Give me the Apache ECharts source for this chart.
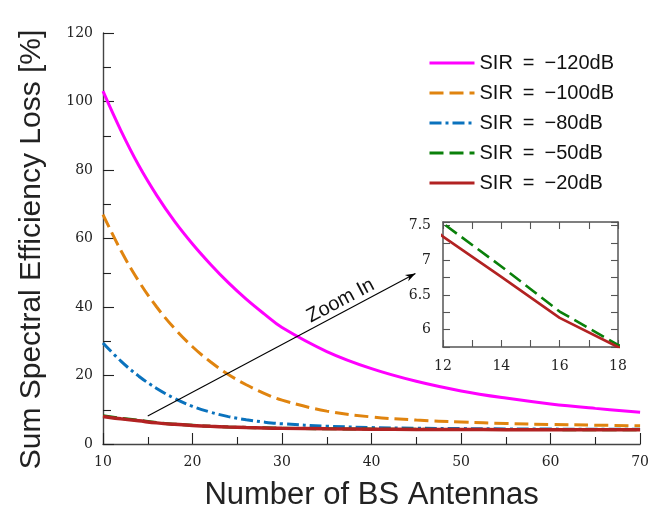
<!DOCTYPE html>
<html>
<head>
<meta charset="utf-8">
<script src="https://cdn.jsdelivr.net/npm/echarts@6/dist/echarts.min.js"></script>
<style>html,body{margin:0;padding:0;background:#fff}#c{width:652px;height:516px}</style>
</head>
<body>
<div id="c"></div>
<script>
// ---- data ----
const antennas = [10,12,14,16,18,20,22,24,26,28,30,35,40,45,50,55,60,65,70];
const lossSIRm120 = [103,91.5,81.3,72.6,65.0,58.4,52.5,47.1,42.3,38.0,34.0,27.0,22.0,18.3,15.5,13.4,11.7,10.4,9.3];
const lossSIRm100 = [67,56.5,47.5,40.0,33.7,28.4,24.0,20.3,17.3,14.8,12.8,9.6,7.9,7.0,6.4,6.0,5.7,5.5,5.3];
const lossSIRm80  = [29.5,24.2,19.8,16.2,13.3,11.0,9.3,8.0,7.1,6.4,5.9,5.2,4.8,4.6,4.5,4.4,4.35,4.3,4.3];
const lossSIRm50  = [8.25,7.53,6.91,6.26,5.78,5.45,5.18,4.98,4.83,4.71,4.61,4.45,4.35,4.29,4.25,4.22,4.2,4.18,4.17];
const lossSIRm20  = [8.0,7.34,6.76,6.17,5.75,5.42,5.15,4.95,4.8,4.68,4.58,4.42,4.32,4.26,4.22,4.19,4.17,4.15,4.14];
const seriesNames = ['SIR\u2002=\u2002\u2212120dB','SIR\u2002=\u2002\u2212100dB','SIR\u2002=\u2002\u221280dB','SIR\u2002=\u2002\u221250dB','SIR\u2002=\u2002\u221220dB'];
const mainXRange = [10, 70];
const mainYRange = [0, 120];
const insetXRange = [12, 18];
const insetYRange = [5.75, 7.55];
const arrowFrom = [15, 8.2];
const arrowTo = [44.9, 49.8];
const annotationText = 'Zoom In';
const xTitle = 'Number of BS Antennas';
const yTitle = 'Sum Spectral Efficiency Loss [%]';

// ---- styling ----
const colors = ['#ff00ff', '#e0840f', '#0a72bd', '#0a800a', '#b22222'];
const dashes = ['solid', [14, 6], [12, 4, 3, 4], [14, 6], 'solid'];
const widths = [3, 3, 3, 3, 3.5];
const allLoss = [lossSIRm120, lossSIRm100, lossSIRm80, lossSIRm50, lossSIRm20];

const serif = '"DejaVu Serif", serif';
const sans = '"Liberation Sans", Arial, sans-serif';
const axisCol = '#444';

function pairs(vals) { return antennas.map((a, i) => [a, vals[i]]); }

const chart = echarts.init(document.getElementById('c'), null, {renderer: 'canvas'});

const series = [];
allLoss.forEach((vals, i) => {
  series.push({
    name: seriesNames[i], type: 'line', xAxisIndex: 0, yAxisIndex: 0,
    data: pairs(vals), symbol: 'none', showSymbol: false, smooth: 0.4, z: 2 + i,
    lineStyle: {color: colors[i], width: widths[i], type: dashes[i]},
    itemStyle: {color: colors[i]},
    animation: false
  });
});
// arrow annotation line
series[0].markLine = {
  silent: true, animation: false,
  symbol: ['none', 'none'],
  label: {show: false},
  lineStyle: {color: '#000', width: 1.1, type: 'solid'},
  data: [[{coord: arrowFrom}, {coord: arrowTo}]]
};
// inset series
[3, 4].forEach(i => {
  series.push({
    name: seriesNames[i], type: 'line', xAxisIndex: 1, yAxisIndex: 1,
    data: pairs(allLoss[i]), symbol: 'none', clip: true, z: 10 + i,
    lineStyle: {color: colors[i], width: 2.6, type: dashes[i]},
    itemStyle: {color: colors[i]},
    animation: false
  });
});

const option = {
  animation: false,
  backgroundColor: '#fff',
  grid: [
    {left: 103, top: 33, width: 540, height: 416},
    {left: 443, top: 222, width: 175, height: 125}
  ],
  legend: {
    data: seriesNames,
    orient: 'vertical', left: 423, top: 47,
    itemWidth: 45, itemHeight: 14, itemGap: 8,
    itemStyle: {opacity: 0},
    lineStyle: {opacity: 1, width: 3},
    textStyle: {fontFamily: sans, fontSize: 20, color: '#111', lineHeight: 22},
    selectedMode: false
  },
  xAxis: [
    {
      type: 'value', gridIndex: 0, min: mainXRange[0], max: mainXRange[1], interval: 10,
      name: xTitle, nameLocation: 'middle', nameGap: 36,
      nameTextStyle: {fontFamily: sans, fontSize: 31, color: '#222'},
      axisLine: {show: true, lineStyle: {color: axisCol, width: 1.4}},
      axisTick: {show: true, inside: true, length: 11, lineStyle: {color: '#222', width: 1.1}},
      minorTick: {show: true, splitNumber: 2, length: 7, lineStyle: {color: '#222', width: 1.1}},
      axisLabel: {fontFamily: serif, fontSize: 14, color: '#222', margin: 11},
      splitLine: {show: false}
    },
    {
      type: 'value', gridIndex: 1, min: insetXRange[0], max: insetXRange[1], interval: 1,
      axisLine: {show: true, onZero: false, lineStyle: {color: '#555', width: 1.5}},
      axisTick: {show: true, inside: true, length: 7, lineStyle: {color: '#555', width: 1.1}},
      axisLabel: {fontFamily: serif, fontSize: 14, color: '#222', margin: 12,
        formatter: v => (v % 2 === 0 ? String(v) : '')},
      splitLine: {show: false}
    },
    {
      type: 'value', gridIndex: 1, position: 'top', min: insetXRange[0], max: insetXRange[1], interval: 1,
      axisLine: {show: true, onZero: false, lineStyle: {color: '#555', width: 1.5}},
      axisTick: {show: true, inside: true, length: 7, lineStyle: {color: '#555', width: 1.1}},
      axisLabel: {show: false}, splitLine: {show: false}
    }
  ],
  yAxis: [
    {
      type: 'value', gridIndex: 0, min: mainYRange[0], max: mainYRange[1], interval: 20,
      name: yTitle, nameLocation: 'middle', nameGap: 56,
      nameTextStyle: {fontFamily: sans, fontSize: 30, color: '#222', padding: [0, 22, 0, 0]},
      axisLine: {show: true, lineStyle: {color: axisCol, width: 1.4}},
      axisTick: {show: true, inside: true, length: 11, lineStyle: {color: '#222', width: 1.1}},
      minorTick: {show: true, splitNumber: 2, length: 8, lineStyle: {color: '#222', width: 1.1}},
      axisLabel: {fontFamily: serif, fontSize: 14, color: '#222', margin: 10},
      splitLine: {show: false}
    },
    {
      type: 'value', gridIndex: 1, min: insetYRange[0], max: insetYRange[1], interval: 0.25,
      axisLine: {show: true, onZero: false, lineStyle: {color: '#555', width: 1.5}},
      axisTick: {show: true, inside: true, length: 7, lineStyle: {color: '#555', width: 1.1}},
      axisLabel: {fontFamily: serif, fontSize: 14, color: '#222', margin: 12,
        formatter: v => (Math.abs(v * 2 - Math.round(v * 2)) < 1e-6 ? String(v) : '')},
      splitLine: {show: false}
    },
    {
      type: 'value', gridIndex: 1, position: 'right', min: insetYRange[0], max: insetYRange[1], interval: 0.25,
      axisLine: {show: true, onZero: false, lineStyle: {color: '#555', width: 1.5}},
      axisTick: {show: true, inside: true, length: 7, lineStyle: {color: '#555', width: 1.1}},
      axisLabel: {show: false}, splitLine: {show: false}
    }
  ],
  series: series
};
chart.setOption(option);

// arrowhead and rotated "Zoom In" text along the arrow
const p0 = chart.convertToPixel({gridIndex: 0}, arrowFrom);
const p1 = chart.convertToPixel({gridIndex: 0}, arrowTo);
const dx = p1[0] - p0[0], dy = p1[1] - p0[1];
const len = Math.sqrt(dx * dx + dy * dy);
const ux = dx / len, uy = dy / len;
const nx = uy, ny = -ux; // normal pointing up-left
const t = 0.74, off = 11;
const cx = p0[0] + dx * t + nx * off;
const cy = p0[1] + dy * t + ny * off;
const headL = 10, headW = 3.6, notch = 7;
const head = [
  [p1[0], p1[1]],
  [p1[0] - ux * headL + nx * headW, p1[1] - uy * headL + ny * headW],
  [p1[0] - ux * notch, p1[1] - uy * notch],
  [p1[0] - ux * headL - nx * headW, p1[1] - uy * headL - ny * headW]
];
chart.setOption({
  graphic: [
    {type: 'polygon', shape: {points: head}, style: {fill: '#000'}, z: 50, silent: true},
    {
      type: 'text', x: cx, y: cy, rotation: Math.atan2(-dy, dx),
      style: {text: annotationText, font: '20px ' + sans, fill: '#111', align: 'center', verticalAlign: 'middle'},
      z: 50, silent: true
    }
  ]
});
</script>
</body>
</html>
